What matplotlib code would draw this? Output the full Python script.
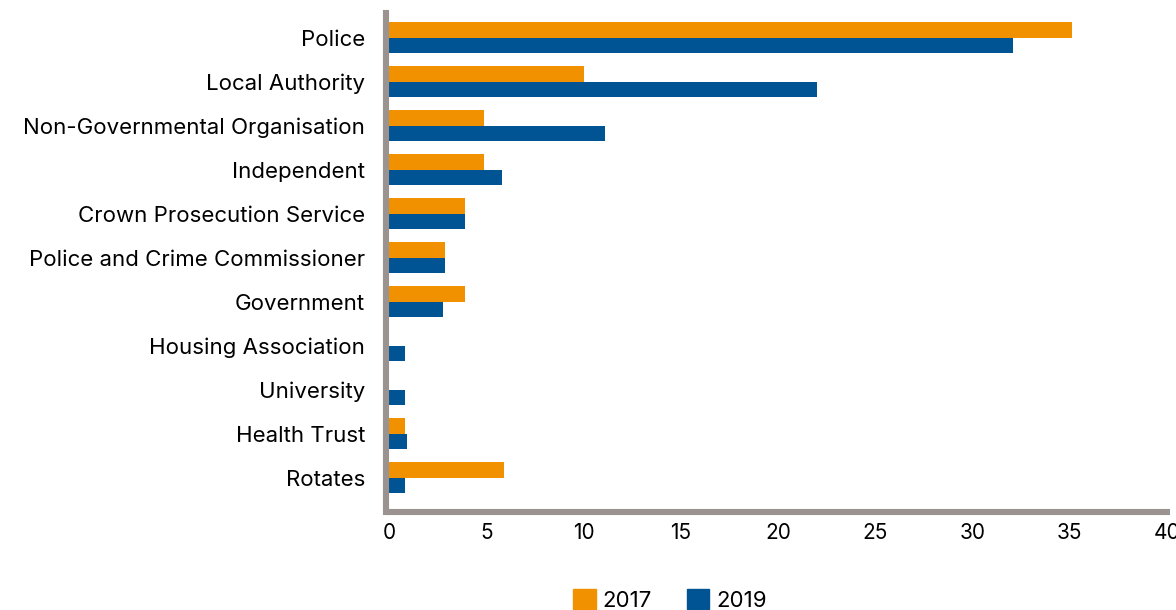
import matplotlib.pyplot as plt
import numpy as np
from matplotlib.patches import Patch

categories = [
    "Police",
    "Local Authority",
    "Non-Governmental Organisation",
    "Independent",
    "Crown Prosecution Service",
    "Police and Crime Commissioner",
    "Government",
    "Housing Association",
    "University",
    "Health Trust",
    "Rotates",
]
values_2017 = [35.1, 10.0, 4.9, 4.9, 3.9, 2.9, 3.9, 0.0, 0.0, 0.8, 5.9]
values_2019 = [32.1, 22.0, 11.1, 5.8, 3.9, 2.9, 2.8, 0.8, 0.8, 0.9, 0.8]
years = ["2017", "2019"]

ORANGE = "#f29100"
BLUE = "#005493"
GREY = "#9a9390"

plt.rcParams["font.family"] = ["Inter", "DejaVu Sans"]

fig = plt.figure(figsize=(11.76, 6.10), dpi=100)
ax = fig.add_axes([389 / 1176, 1 - 512 / 610, (1167 - 389) / 1176, (512 - 13) / 610])

y = np.arange(len(categories))
h = 0.35
ax.barh(y - h / 2, values_2017, height=h, color=ORANGE)
ax.barh(y + h / 2, values_2019, height=h, color=BLUE)

ax.set_xlim(0, 40)
ax.set_ylim(10.78, -0.56)
ax.set_xticks(range(0, 41, 5))
ax.set_yticks(y)
ax.set_yticklabels(categories)

for side in ("top", "right"):
    ax.spines[side].set_visible(False)
for side in ("left", "bottom"):
    ax.spines[side].set_color(GREY)
    ax.spines[side].set_linewidth(4.4)
ax.spines["left"].set_position(("outward", 2.2))

ax.tick_params(axis="y", length=0, pad=15, labelsize=16)
ax.tick_params(axis="x", length=0, pad=8, labelsize=15)

handles = [Patch(color=ORANGE), Patch(color=BLUE)]
fig.legend(handles, years, loc="center", bbox_to_anchor=(670 / 1176, 1 - 600 / 610),
           ncol=2, frameon=False, fontsize=16, handlelength=1.0, handleheight=1.0,
           handletextpad=0.3, columnspacing=1.6)

fig.savefig("out.png", dpi=100)
